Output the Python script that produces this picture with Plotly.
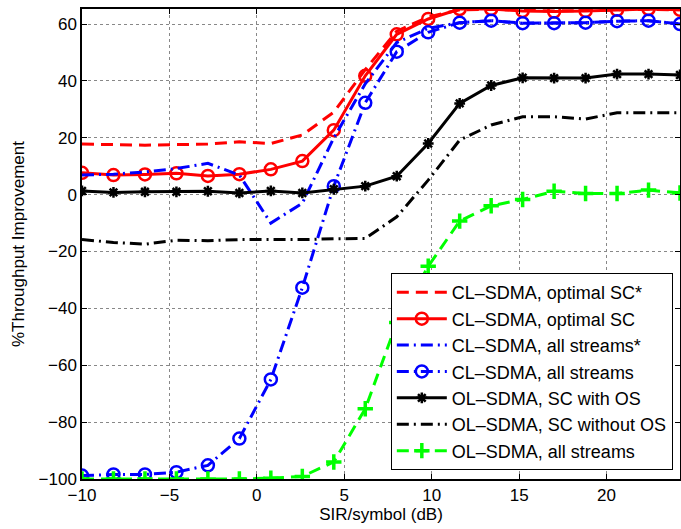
import plotly.graph_objects as go

sir_db = [-10 + 1.8 * i for i in range(20)]

cl_opt_star = [17.8, 17.6, 17.4, 17.6, 17.8, 18.6, 18.0, 21.0, 29.0, 44.0,
               57.5, 62.5, 65.0, 65.2, 64.8, 64.6, 64.8, 65.0, 65.2, 65.0]
cl_opt = [7.7, 6.9, 7.1, 7.5, 6.6, 7.2, 8.9, 11.8, 22.7, 41.8,
          56.4, 61.8, 65.3, 65.3, 64.6, 64.4, 64.6, 65.0, 65.3, 65.0]
cl_all_star = [6.9, 7.2, 8.0, 9.2, 11.0, 6.9, -10.0, -3.0, 20.0, 39.0,
               53.5, 58.5, 60.5, 61.2, 60.3, 60.3, 60.5, 61.0, 61.2, 60.0]
cl_all = [-98.8, -98.4, -98.4, -97.6, -95.2, -85.8, -65.0, -32.7, 3.0, 32.3,
          50.3, 57.1, 60.5, 61.2, 60.3, 60.3, 60.5, 61.0, 61.2, 60.0]
ol_sc_os = [1.3, 0.8, 1.0, 1.0, 1.2, 0.6, 1.3, 0.6, 1.9, 3.0,
            6.5, 18.0, 32.1, 38.4, 41.1, 41.0, 41.0, 42.4, 42.4, 42.1]
ol_sc_noos = [-15.8, -16.8, -17.4, -16.0, -16.2, -15.8, -15.8, -15.8, -15.5, -15.4,
              -7.8, 5.1, 19.2, 24.5, 27.4, 27.4, 26.6, 28.8, 28.8, 28.8]
ol_all = [-100.0, -100.0, -100.0, -100.0, -100.0, -100.0, -99.7, -99.1, -94.0, -75.3,
          -45.0, -25.2, -9.3, -3.9, -1.7, 1.2, 0.4, 0.4, 1.6, 0.6]

x_ticks = [-10, -5, 0, 5, 10, 15, 20]
y_ticks = [-100, -80, -60, -40, -20, 0, 20, 40, 60]

DASHDOT = "12px,5px,2px,5px"

fig = go.Figure()
fig.add_trace(go.Scatter(x=sir_db, y=cl_opt_star, mode="lines",
                         name="CL–SDMA, optimal SC*",
                         line=dict(color="#ff0000", width=3, dash="12px,7px")))
fig.add_trace(go.Scatter(x=sir_db, y=cl_opt, mode="lines+markers",
                         name="CL–SDMA, optimal SC",
                         line=dict(color="#ff0000", width=3),
                         marker=dict(symbol="circle-open", size=12,
                                     line=dict(color="#ff0000", width=2.5))))
fig.add_trace(go.Scatter(x=sir_db, y=cl_all_star, mode="lines",
                         name="CL–SDMA, all streams*",
                         line=dict(color="#0000ff", width=3, dash=DASHDOT)))
fig.add_trace(go.Scatter(x=sir_db, y=cl_all, mode="lines+markers",
                         name="CL–SDMA, all streams",
                         line=dict(color="#0000ff", width=3, dash=DASHDOT),
                         marker=dict(symbol="circle-open", size=12,
                                     line=dict(color="#0000ff", width=2.5))))
fig.add_trace(go.Scatter(x=sir_db, y=ol_sc_os, mode="lines+markers",
                         name="OL–SDMA, SC with OS",
                         line=dict(color="#000000", width=3),
                         marker=dict(symbol="asterisk-open", size=9,
                                     line=dict(color="#000000", width=2.5))))
fig.add_trace(go.Scatter(x=sir_db, y=ol_sc_noos, mode="lines",
                         name="OL–SDMA, SC without OS",
                         line=dict(color="#000000", width=3, dash=DASHDOT)))
fig.add_trace(go.Scatter(x=sir_db, y=ol_all, mode="lines+markers",
                         name="OL–SDMA, all streams",
                         line=dict(color="#00ff00", width=3, dash="12px,7px"),
                         marker=dict(symbol="cross-thin-open", size=11,
                                     line=dict(color="#00ff00", width=3.5))))

axis_common = dict(showgrid=True, gridcolor="#888888", griddash="dot", gridwidth=1,
                   showline=True, linecolor="black", linewidth=1.5, mirror="ticks",
                   ticks="inside", ticklen=5, tickcolor="black", zeroline=False,
                   automargin=False,
                   tickfont=dict(size=17, color="black"))

fig.update_xaxes(range=[-10, 24.2], tickvals=x_ticks,
                 title=dict(text="SIR/symbol (dB)", font=dict(size=17, color="black"), standoff=2),
                 **axis_common)
fig.update_yaxes(range=[-100, 65.3], tickvals=y_ticks,
                 title=dict(text="%Throughput Improvement", font=dict(size=17, color="black"), standoff=10),
                 **axis_common)

fig.update_layout(
    width=681, height=529,
    margin=dict(l=82, r=1, t=9, b=50, autoexpand=False),
    paper_bgcolor="white", plot_bgcolor="white",
    font=dict(family="Liberation Sans, Arial, sans-serif", color="black"),
    showlegend=True,
    legend=dict(x=0.988, y=0.019, xanchor="right", yanchor="bottom",
                bgcolor="white", bordercolor="black", borderwidth=1,
                font=dict(size=18, color="black"), tracegroupgap=0,
                itemwidth=50),
)

fig.write_html("out.html",
               config={"displayModeBar": False},
               post_script="document.body.style.margin='0';document.body.style.overflow='hidden';")
